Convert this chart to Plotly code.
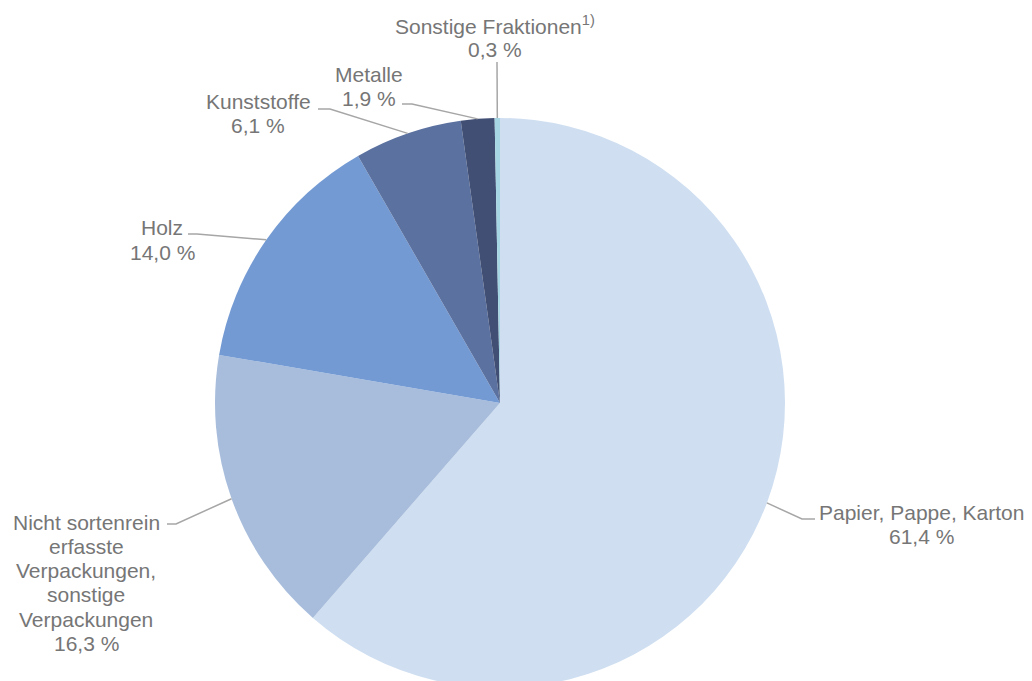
import math
import plotly.graph_objects as go

labels = ["Papier, Pappe, Karton",
          "Nicht sortenrein erfasste Verpackungen, sonstige Verpackungen",
          "Holz", "Kunststoffe", "Metalle", "Sonstige Fraktionen"]
values = [61.4, 16.3, 14.0, 6.1, 1.9, 0.3]
value_text = ["61,4 %", "16,3 %", "14,0 %", "6,1 %", "1,9 %", "0,3 %"]
name_lines = [["Papier, Pappe, Karton"],
              ["Nicht sortenrein", "erfasste", "Verpackungen,", "sonstige", "Verpackungen"],
              ["Holz"],
              ["Kunststoffe"],
              ["Metalle"],
              ["Sonstige Fraktionen<sup>1)</sup>"]]
colors = ["#CFDFF1", "#A8BDDC", "#739AD3", "#5B71A0", "#414F74", "#A6D6E3"]

# page body has an 8px margin; work in reference pixel coordinates
OFF = 8
W, H = 1024, 690
CX, CY, R = 500, 403, 285


def px(x):
    return (x - OFF) / W


def py(y):
    return 1 - (y - OFF) / H


fig = go.Figure(go.Pie(
    labels=labels, values=values, sort=False, direction="clockwise", rotation=0,
    marker=dict(colors=colors, line=dict(color="white", width=0)),
    textinfo="none", hoverinfo="label+percent", showlegend=False,
    domain=dict(x=[px(CX - R), px(CX + R)], y=[py(CY + R), py(CY - R)]),
))

# label layout: (text center x, first line center y, elbow x, elbow y, line end x)
label_pos = [
    (921, 512, 802, 519, 815),
    (86, 522, 176, 524, 167),
    (162, 228, 197, 234, 188),
    (258, 101, 330, 109, 318),
    (369, 74, 412, 104, 402),
    (495, 25, 497, 62, 497),
]
LINE_H = 24.3

line_color = "#A6A6A6"
text_font = dict(family="Liberation Sans, Arial, sans-serif", size=21, color="#767676")
total = sum(values)
cum = 0.0
shapes = []
annotations = []
for v, names, vt, pos in zip(values, name_lines, value_text, label_pos):
    mid = (cum + v / 2) / total * 2 * math.pi
    cum += v
    ex = CX + R * math.sin(mid)
    ey = CY - R * math.cos(mid)
    tx, ty, bx, by, lx = pos
    shapes.append(dict(type="path", xref="paper", yref="paper",
                       path=f"M {px(ex)} {py(ey)} L {px(bx)} {py(by)} L {px(lx)} {py(by)}",
                       line=dict(color=line_color, width=1.5)))
    for i, line in enumerate(names + [vt]):
        annotations.append(dict(x=px(tx), y=py(ty + i * LINE_H), xref="paper", yref="paper",
                                text=line, showarrow=False, xanchor="center",
                                yanchor="middle", align="center", font=text_font))

fig.update_layout(
    width=W, height=H, margin=dict(l=0, r=0, t=0, b=0),
    paper_bgcolor="white", plot_bgcolor="white",
    shapes=shapes, annotations=annotations,
)

fig.write_html("out.html")
